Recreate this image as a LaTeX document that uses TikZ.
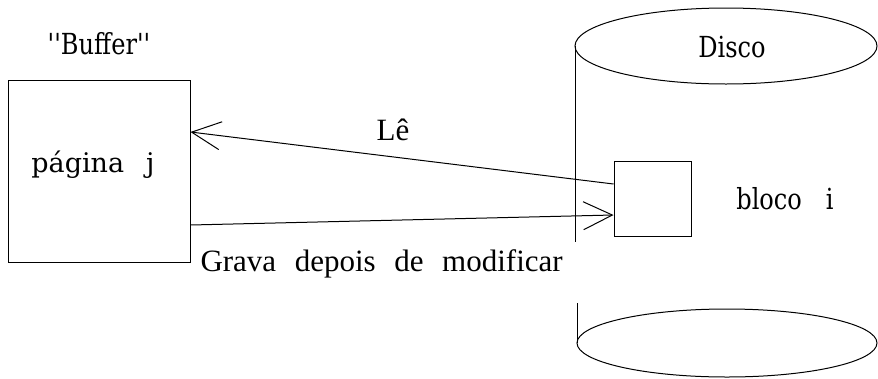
\documentclass[tikz,border=0pt]{standalone}
\usepackage{fontspec}
\usepackage{tikz}
\usetikzlibrary{arrows.meta}
\newfontfamily\discofont[FakeStretch=0.83]{DejaVu Serif}
\newfontfamily\textofont[WordSpace=2.4]{Liberation Serif}
\newfontfamily\paginafont{DejaVu Serif}

\begin{document}
\begin{tikzpicture}[x=1pt,y=-1pt,line width=1pt,>={Straight Barb[length=29pt,width=28pt]}]
  \useasboundingbox (0,0) rectangle (878,378);
  \tikzset{
    caixa/.style={draw,inner sep=0pt},
    mono/.style={font=\discofont\fontsize{29}{34}\selectfont,inner sep=0pt},
    serifa/.style={font=\textofont\fontsize{31}{36}\selectfont,inner sep=0pt}
  }
  % buffer
  \node[caixa,minimum width=182pt,minimum height=182pt] (buf) at (99,171) {};
  \node[mono] (buflabel) at (99,44) {''Buffer''};
  \node[font=\paginafont\fontsize{27}{32}\selectfont,inner sep=0pt] (pag) at (93,165) {página\hspace{22pt}j};
  % disco
  \draw (726,46) ellipse[x radius=151,y radius=38];
  \draw (727,343) ellipse[x radius=150,y radius=34];
  \draw (575,46) -- (575,242);
  \draw (577,303) -- (577,343);
  \node[mono] (disco) at (732,47) {Disco};
  \node[caixa,minimum width=77pt,minimum height=75pt] (blk) at (652.5,198.5) {};
  \node[mono] (blklabel) at (785,199) {bloco\hspace{24pt}i};
  % setas
  \draw[->] ([yshift=14.5pt]blk.west) -- ([yshift=39pt]buf.east);
  \draw[->] ([yshift=-54pt]buf.east) -- ([yshift=-16.5pt]blk.west);
  \node[serifa] (le) at (393,130) {Lê};
  \node[serifa,anchor=base west] (grava) at (200,271) {Grava depois de modificar};
\end{tikzpicture}
\end{document}
